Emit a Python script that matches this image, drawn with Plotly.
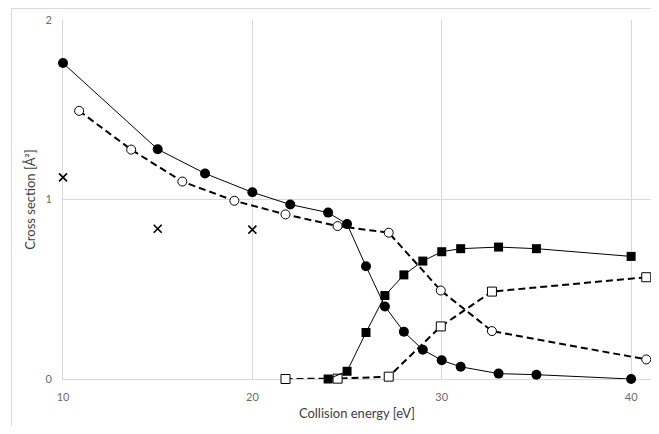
import plotly.graph_objects as go

# Filled circles (solid line)
fc_x = [10, 15, 17.5, 20, 22, 24, 25, 26, 27, 28, 29, 30, 31, 33, 35, 40]
fc_y = [1.76, 1.28, 1.145, 1.04, 0.972, 0.927, 0.863, 0.628, 0.404, 0.263, 0.163, 0.104, 0.068, 0.030, 0.024, 0.0]

# Open circles (dashed line)
oc_x = [10.85, 13.6, 16.3, 19.05, 21.75, 24.5, 27.2, 29.95, 32.65, 40.8]
oc_y = [1.494, 1.278, 1.10, 0.993, 0.917, 0.852, 0.815, 0.493, 0.267, 0.109]

# Filled squares (solid line)
fs_x = [24, 25, 26, 27, 28, 29, 30, 31, 33, 35, 40]
fs_y = [0.0, 0.043, 0.259, 0.465, 0.58, 0.657, 0.709, 0.726, 0.735, 0.726, 0.683]

# Open squares (dashed line)
os_x = [21.75, 24.5, 27.2, 29.95, 32.65, 40.8]
os_y = [0.0, 0.002, 0.013, 0.293, 0.487, 0.567]

# Crosses (markers only)
cx_x = [10, 15, 20]
cx_y = [1.123, 0.837, 0.832]

x_ticks = [10, 20, 30, 40]
y_ticks = [0, 1, 2]

fig = go.Figure()

fig.add_trace(go.Scatter(x=oc_x, y=oc_y, mode="lines+markers", cliponaxis=False,
                         line=dict(color="black", width=2, dash="7px,4px"),
                         marker=dict(symbol="circle", size=9, color="white",
                                     line=dict(color="black", width=1))))
fig.add_trace(go.Scatter(x=os_x, y=os_y, mode="lines+markers", cliponaxis=False,
                         line=dict(color="black", width=2, dash="7px,4px"),
                         marker=dict(symbol="square", size=9, color="white",
                                     line=dict(color="black", width=1))))
fig.add_trace(go.Scatter(x=fc_x, y=fc_y, mode="lines+markers", cliponaxis=False,
                         line=dict(color="black", width=1),
                         marker=dict(symbol="circle", size=10, color="black")))
fig.add_trace(go.Scatter(x=fs_x, y=fs_y, mode="lines+markers", cliponaxis=False,
                         line=dict(color="black", width=1),
                         marker=dict(symbol="square", size=9, color="black")))
fig.add_trace(go.Scatter(x=cx_x, y=cx_y, mode="markers", cliponaxis=False,
                         marker=dict(symbol="x-thin", size=8, color="black",
                                     line=dict(color="black", width=1.6))))

font_family = "Lato, 'Open Sans', sans-serif"

fig.update_layout(
    width=643, height=418,
    margin=dict(l=55, r=0, t=12, b=47, pad=0),
    paper_bgcolor="white", plot_bgcolor="white",
    showlegend=False,
    font=dict(family=font_family, color="#595959", size=11),
    xaxis=dict(range=[10, 41.05], tickvals=x_ticks, ticktext=[str(v) for v in x_ticks],
               showgrid=True, gridcolor="#d9d9d9", gridwidth=1,
               showline=True, linecolor="#d9d9d9", linewidth=1, layer="below traces",
               zeroline=False, ticks="outside", ticklen=8, tickcolor="rgba(0,0,0,0)",
               tickfont=dict(size=11, color="#6b6b6b"),
               title=dict(text="Collision energy [eV]", font=dict(size=13, color="#404040"),
                          standoff=6)),
    yaxis=dict(range=[0, 2], tickvals=y_ticks, ticktext=[str(v) for v in y_ticks],
               showgrid=True, gridcolor="#d9d9d9", gridwidth=1,
               showline=True, linecolor="#d9d9d9", linewidth=1, layer="below traces",
               zeroline=False, ticks="outside", ticklen=8, tickcolor="rgba(0,0,0,0)",
               tickfont=dict(size=11, color="#6b6b6b"),
               title=dict(text="Cross section [Å²]", font=dict(size=13, color="#404040"),
                          standoff=6)),
)

# Outer chart border (Excel style)
fig.add_shape(type="rect", xref="paper", yref="paper",
              x0=-0.0876, x1=1.02, y0=-0.3, y1=1.032,
              line=dict(color="#d9d9d9", width=1), fillcolor="rgba(0,0,0,0)",
              layer="below")

fig.write_html("out.html")
